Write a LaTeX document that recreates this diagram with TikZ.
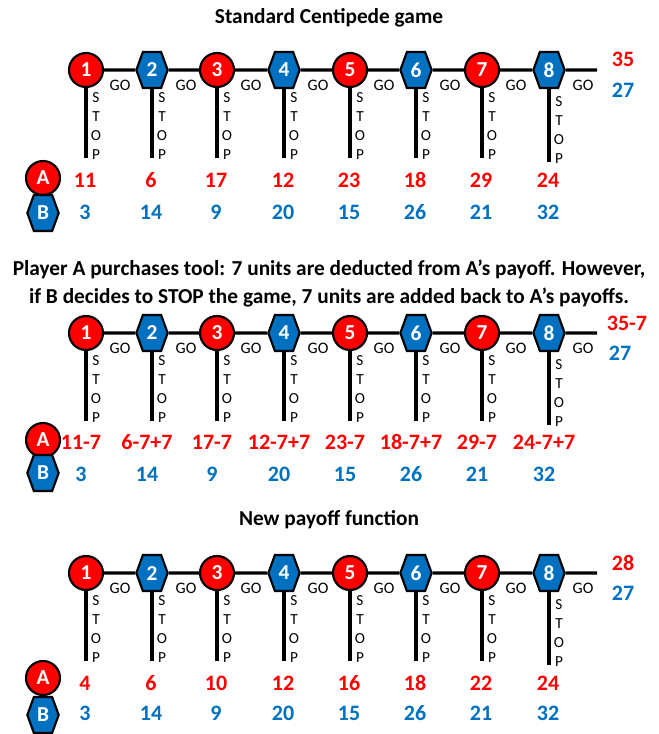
\documentclass[tikz,border=0pt]{standalone}
\usepackage{fontspec}
\setmainfont{Carlito}
\usetikzlibrary{shapes.symbols}
\definecolor{ared}{HTML}{FF0000}
\definecolor{bblue}{HTML}{0070C0}
\tikzset{
  pla/.style={circle, draw=black, line width=1.6pt, fill=ared, text=white,
    font=\bfseries\fontsize{16}{16}\selectfont, minimum size=25.5pt, inner sep=0pt},
  plb/.style={signal, signal to=east and west, signal pointer angle=140,
    draw=black, line width=1.6pt, fill=bblue, text=white,
    font=\bfseries\fontsize{16}{16}\selectfont, minimum width=23.5pt, minimum height=27pt, inner sep=0pt},
  gline/.style={line width=2.3pt},
  golabel/.style={font=\fontsize{12}{12}\selectfont, inner sep=0pt},
  stoplabel/.style={font=\fontsize{11.5}{14.25}\selectfont, align=center, inner sep=0pt},
  paya/.style={text=ared, font=\bfseries\fontsize{16.5}{16.5}\selectfont, inner sep=0pt,
    text height=11pt, text depth=0pt},
  payb/.style={text=bblue, font=\bfseries\fontsize{16.5}{16.5}\selectfont, inner sep=0pt,
    text height=11pt, text depth=0pt},
  title/.style={font=\bfseries\fontsize{16}{21}\selectfont, align=center, inner sep=0pt}
}
\begin{document}
\begin{tikzpicture}[x=0.75pt, y=-0.75pt]
  \useasboundingbox (0,0) rectangle (658,734);

  % titles
  \node[title] (t1) at (329,18) {Standard Centipede game};
  \node[title] (t2) at (329,284) {Player A purchases tool: 7 units are deducted from A’s payoff. However,\\
    if B decides to STOP the game, 7 units are added back to A’s payoffs.};
  \node[title] (t3) at (329,520) {New payoff function};

  % the three games
  \foreach \r/\yy in {1/70,2/333,3/573}{
    \foreach \i/\xx/\dd in {1/86/0,2/152/0,3/217/0,4/284/0,5/350/0,6/416/0,7/482/0,8/549/4}{
      \ifodd\i\relax
        \node[pla] (r\r-\i) at (\xx,\yy) {\i};
      \else
        \node[plb] (r\r-\i) at (\xx,\yy) {\i};
      \fi
      \coordinate (r\r-\i-s) at (\xx,\yy+88+\dd);
      \draw[gline] (r\r-\i) -- (r\r-\i-s);
      \node[golabel] (r\r-\i-go) at (\xx+34,\yy+15) {GO};
      \node[stoplabel] (r\r-\i-stop) at (\xx+10,\yy+56+\dd) {S\\T\\O\\P};
    }
    \coordinate (r\r-end) at (597,\yy);
    \draw[gline] (r\r-1) -- (r\r-2) -- (r\r-3) -- (r\r-4) -- (r\r-5) -- (r\r-6) -- (r\r-7) -- (r\r-8) -- (r\r-end);
  }

  % legend
  \node[pla] (r1-A) at (43,178) {A};
  \node[plb] (r1-B) at (43,213) {B};
  \node[pla] (r2-A) at (43,440) {A};
  \node[plb] (r2-B) at (43,473) {B};
  \node[pla] (r3-A) at (43,678) {A};
  \node[plb] (r3-B) at (43,715) {B};

  % payoffs
  \foreach \i/\xx/\pa in {1/85/11,2/151/6,3/216/17,4/283/12,5/349/23,6/415/18,7/481/29,8/548/24}
    \node[paya] (r1-\i-a) at (\xx,180) {\pa};
  \foreach \i/\xx/\pa in {1/81/11-7,2/147/6-7+7,3/212/17-7,4/279/12-7+7,5/345/23-7,6/411/18-7+7,7/477/29-7,8/544/24-7+7}
    \node[paya] (r2-\i-a) at (\xx,442) {\pa};
  \foreach \i/\xx/\pa in {1/85/4,2/151/6,3/216/10,4/283/12,5/349/16,6/415/18,7/481/22,8/548/24}
    \node[paya] (r3-\i-a) at (\xx,683) {\pa};
  \foreach \r/\yy/\sh in {1/212/0,2/474/-4,3/713/0}
    \foreach \i/\xx/\pb in {1/85/3,2/151/14,3/216/9,4/283/20,5/349/15,6/415/26,7/481/21,8/548/32}
      \node[payb] (r\r-\i-b) at (\xx+\sh,\yy) {\pb};

  \node[paya] (r1-end-a) at (623,59) {35};
  \node[payb] (r1-end-b) at (623,90) {27};
  \node[paya] (r2-end-a) at (627,323) {35-7};
  \node[payb] (r2-end-b) at (620,353) {27};
  \node[paya] (r3-end-a) at (623,563) {28};
  \node[payb] (r3-end-b) at (623,593) {27};
\end{tikzpicture}
\end{document}
